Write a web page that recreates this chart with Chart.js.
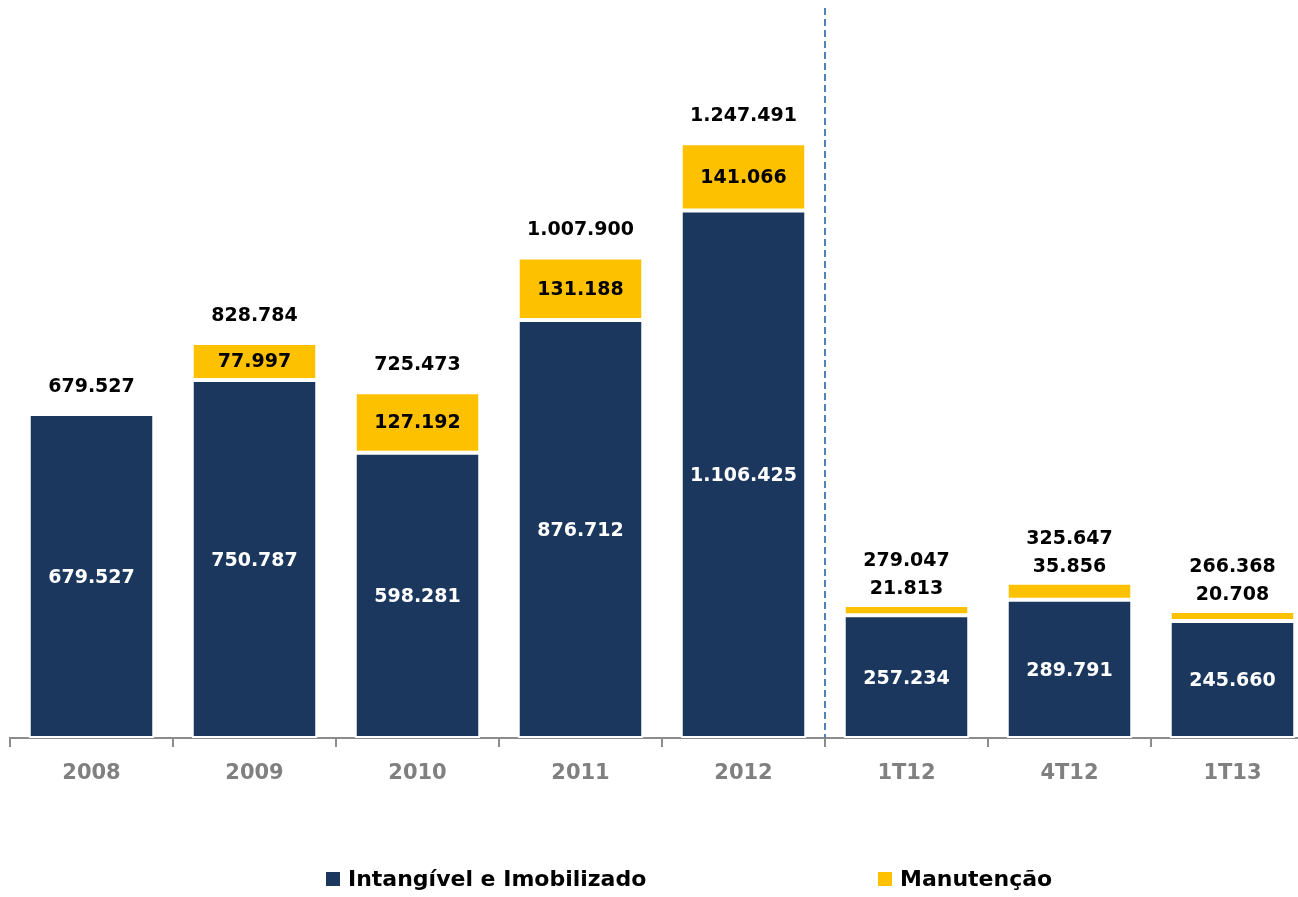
<!DOCTYPE html>
<html lang="pt">
<head>
<meta charset="utf-8">
<script src="https://cdn.jsdelivr.net/npm/chart.js@4.4.1/dist/chart.umd.min.js"></script>
<style>
    html, body { margin: 0; padding: 0; background: #fff; overflow: hidden; }
    #wrap { position: relative; width: 1314px; height: 897px; }
    #legend { position: absolute; top: 866px; left: 0; width: 1298px; font: bold 22px "DejaVu Sans", sans-serif; color: #000; }
    #legend span { position: absolute; top: 0; white-space: nowrap; }
    #legend i { display: inline-block; width: 14px; height: 14px; margin-right: 8px; vertical-align: 0; }
</style>
</head>
<body>
<div id="wrap">
    <canvas id="capex" width="1314" height="897"></canvas>
    <div id="legend">
        <span style="left:326px"><i style="background:#1b375d"></i>Intangível e Imobilizado</span>
        <span style="left:878px"><i style="background:#fdc100"></i>Manutenção</span>
    </div>
</div>
<script>
const categories = ['2008', '2009', '2010', '2011', '2012', '1T12', '4T12', '1T13'];
const intangivel = [679527, 750787, 598281, 876712, 1106425, 257234, 289791, 245660];
const manutencao = [null, 77997, 127192, 131188, 141066, 21813, 35856, 20708];
const seriesNames = ['Intangível e Imobilizado', 'Manutenção'];

const NAVY = '#1b375d';
const GOLD = '#fdc100';
const FONT = '"DejaVu Sans", sans-serif';

function fmt(v) {
    return String(v).replace(/\B(?=(\d{3})+(?!\d))/g, '.');
}

// value labels: inside segments, totals above the stack
const labelPlugin = {
    id: 'valueLabels',
    afterDatasetsDraw(chart) {
        const ctx = chart.ctx;
        const navyMeta = chart.getDatasetMeta(0);
        const goldMeta = chart.getDatasetMeta(1);
        ctx.save();
        ctx.font = 'bold 19px ' + FONT;
        ctx.textAlign = 'center';
        ctx.textBaseline = 'middle';
        categories.forEach((c, i) => {
            const nb = navyMeta.data[i];
            ctx.fillStyle = '#fff';
            ctx.fillText(fmt(intangivel[i]), nb.x, (nb.y + nb.base) / 2 + 2);

            let top = nb.y;
            let totalY = top - 27;
            if (manutencao[i]) {
                const gb = goldMeta.data[i];
                top = gb.y;
                const h = gb.base - gb.y;
                ctx.fillStyle = '#000';
                if (h > 30) {
                    ctx.fillText(fmt(manutencao[i]), gb.x, (gb.y + gb.base) / 2 + 1);
                    totalY = top - 27;
                } else {
                    ctx.fillText(fmt(manutencao[i]), gb.x, top - 16);
                    totalY = top - 44;
                }
            }
            ctx.fillStyle = '#000';
            ctx.fillText(fmt(intangivel[i] + (manutencao[i] || 0)), nb.x, totalY);
        });
        ctx.restore();
    }
};

// dashed separator between annual and quarterly figures
const dividerPlugin = {
    id: 'divider',
    afterDraw(chart) {
        const x = chart.scales.x;
        const px = (x.getPixelForValue(4) + x.getPixelForValue(5)) / 2;
        const ctx = chart.ctx;
        ctx.save();
        ctx.strokeStyle = '#4f81bd';
        ctx.lineWidth = 2;
        ctx.setLineDash([7, 4]);
        ctx.beginPath();
        ctx.moveTo(px, 8);
        ctx.lineTo(px, chart.chartArea.bottom);
        ctx.stroke();
        ctx.restore();
    }
};

new Chart(document.getElementById('capex'), {
    type: 'bar',
    data: {
        labels: categories,
        datasets: [
            { label: seriesNames[0], data: intangivel, backgroundColor: NAVY, borderColor: '#fff', borderWidth: 2, borderSkipped: false },
            { label: seriesNames[1], data: manutencao, backgroundColor: GOLD, borderColor: '#fff', borderWidth: 2, borderSkipped: false }
        ]
    },
    options: {
        responsive: false,
        animation: false,
        layout: { padding: { left: 10, right: 0, top: 0, bottom: 0 } },
        datasets: { bar: { categoryPercentage: 1, barPercentage: 0.77 } },
        plugins: { legend: { display: false }, tooltip: { enabled: false } },
        scales: {
            x: {
                stacked: true,
                afterFit(scale) { scale.height = 159; },
                border: { color: '#8c8c8c', width: 2 },
                grid: { offset: true, drawOnChartArea: false, drawTicks: true, tickLength: 9, color: '#8c8c8c', lineWidth: 2 },
                ticks: { color: '#808080', font: { family: FONT, weight: 'bold', size: 21 }, padding: 14 }
            },
            y: {
                stacked: true,
                display: false,
                min: 0,
                max: 1548000
            }
        }
    },
    plugins: [labelPlugin, dividerPlugin]
});
</script>
</body>
</html>
